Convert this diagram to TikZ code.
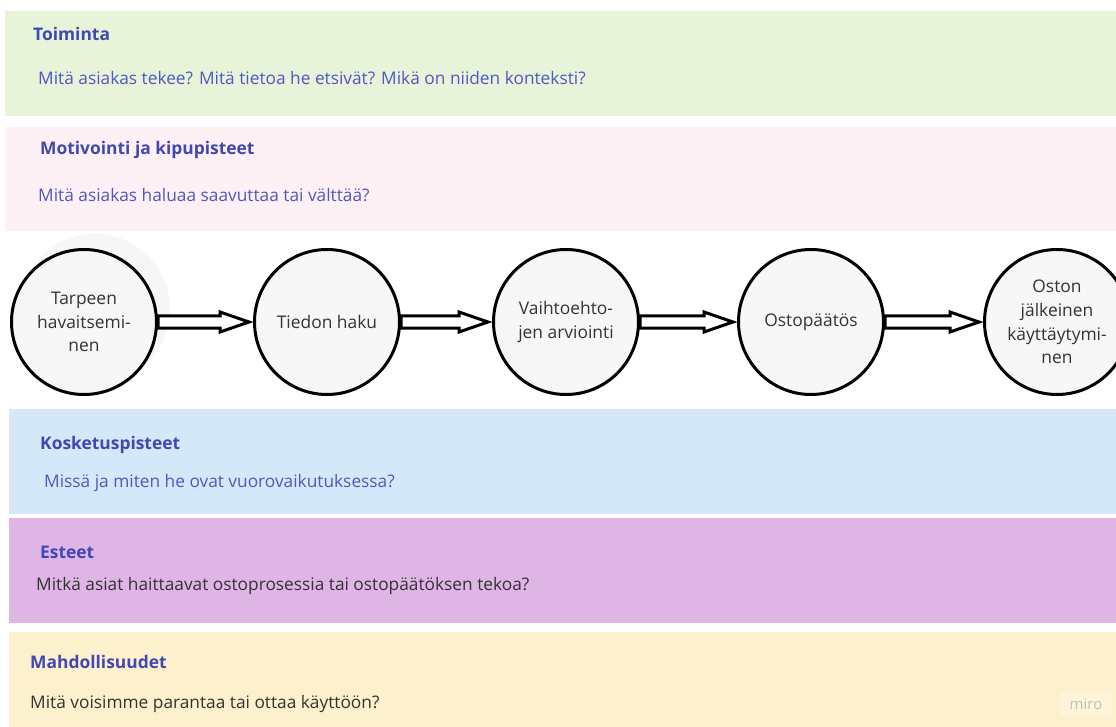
\documentclass[tikz,border=0pt]{standalone}
\usepackage{fontspec}
\setmainfont{Open Sans}
\usetikzlibrary{calc}

\definecolor{bandgreen}{HTML}{E7F4DA}
\definecolor{bandpink}{HTML}{FEF1F5}
\definecolor{bandblue}{HTML}{D4E8F9}
\definecolor{bandpurple}{HTML}{DEB5E5}
\definecolor{bandyellow}{HTML}{FDF1CD}
\definecolor{titleblue}{HTML}{4147B3}
\definecolor{askblue}{HTML}{5157C0}
\definecolor{textdark}{HTML}{333333}
\definecolor{stagefill}{HTML}{F7F7F7}
\definecolor{haze}{HTML}{F6F6F6}

\tikzset{
  bandtitle/.style={anchor=west, inner sep=0pt, text=titleblue,
    font=\fontsize{17.4}{21}\selectfont\bfseries},
  bandask/.style={anchor=west, inner sep=0pt, text=askblue,
    font=\fontsize{17.3}{21}\selectfont},
  banddark/.style={bandask, text=textdark},
  stage/.style={circle, draw=black, line width=3pt, fill=stagefill,
    minimum size=145pt, inner sep=0pt, align=center, text=textdark,
    font=\fontsize{17.4}{23.8}\selectfont},
  flowarrow/.style={draw=black, fill=white, line width=3pt, line join=miter,
    to path={let \p1=(\tikztostart), \p2=(\tikztotarget) in
      (\x1,\y1+6.2pt) -- (\x2-33pt,\y1+6.2pt) -- (\x2-33pt,\y1+10pt)
      -- (\x2-4pt,\y1) -- (\x2-33pt,\y1-10pt) -- (\x2-33pt,\y1-6.2pt)
      -- (\x1,\y1-6.2pt) -- cycle}},
}

\begin{document}
\begin{tikzpicture}[x=1pt,y=-1pt]
\useasboundingbox (0,0) rectangle (1116,727);
\clip (0,0) rectangle (1116,727);
\fill[white] (0,0) rectangle (1116,727);

% horizontal bands
\fill[bandgreen]  (5,11)  rectangle (1116,116);
\fill[bandpink]   (5,127) rectangle (1116,231);
\fill[bandblue]   (9,409) rectangle (1116,514);
\fill[bandpurple] (9,518) rectangle (1116,623);
\fill[bandyellow] (9,632) rectangle (1116,727);

% band headings and questions
\node[bandtitle] (t1) at (33,34)  {Toiminta};
\node[bandask]   (q1) at (38,78)  {Mitä asiakas tekee? Mitä tietoa he etsivät? Mikä on niiden konteksti?};
\node[bandtitle] (t2) at (40,150) {Motivointi ja kipupisteet};
\node[bandask]   (q2) at (38,195) {Mitä asiakas haluaa saavuttaa tai välttää?};
\node[bandtitle] (t3) at (40,445) {Kosketuspisteet};
\node[bandask]   (q3) at (44,483) {Missä ja miten he ovat vuorovaikutuksessa?};
\node[bandtitle] (t4) at (40,552) {Esteet};
\node[banddark]  (q4) at (36,586) {Mitkä asiat haittaavat ostoprosessia tai ostopäätöksen tekoa?};
\node[bandtitle] (t5) at (30,662) {Mahdollisuudet};
\node[banddark]  (q5) at (30,704) {Mitä voisimme parantaa tai ottaa käyttöön?};

% faint halo behind the first stage
\fill[haze] (95,309) circle (75);

% purchase process stages
\node[stage] (s1) at (84,322)   {Tarpeen\\havaitsemi-\\nen};
\node[stage] (s2) at (327,322)  {Tiedon haku};
\node[stage] (s3) at (566,322)  {Vaihtoehto-\\jen arviointi};
\node[stage] (s4) at (811,322)  {Ostopäätös};
\node[stage] (s5) at (1057,322) {Oston\\jälkeinen\\käyttäytymi-\\nen};

% hollow arrows between stages
\draw[flowarrow] (s1.east) to (s2.west);
\draw[flowarrow] (s2.east) to (s3.west);
\draw[flowarrow] (s3.east) to (s4.west);
\draw[flowarrow] (s4.east) to (s5.west);

% watermark
\fill[white, opacity=0.25] (1060,692) rectangle (1112,716);
\node[text=black!25, inner sep=0pt, font=\fontsize{15}{17}\selectfont] (wm) at (1086,704) {miro};
\end{tikzpicture}
\end{document}
